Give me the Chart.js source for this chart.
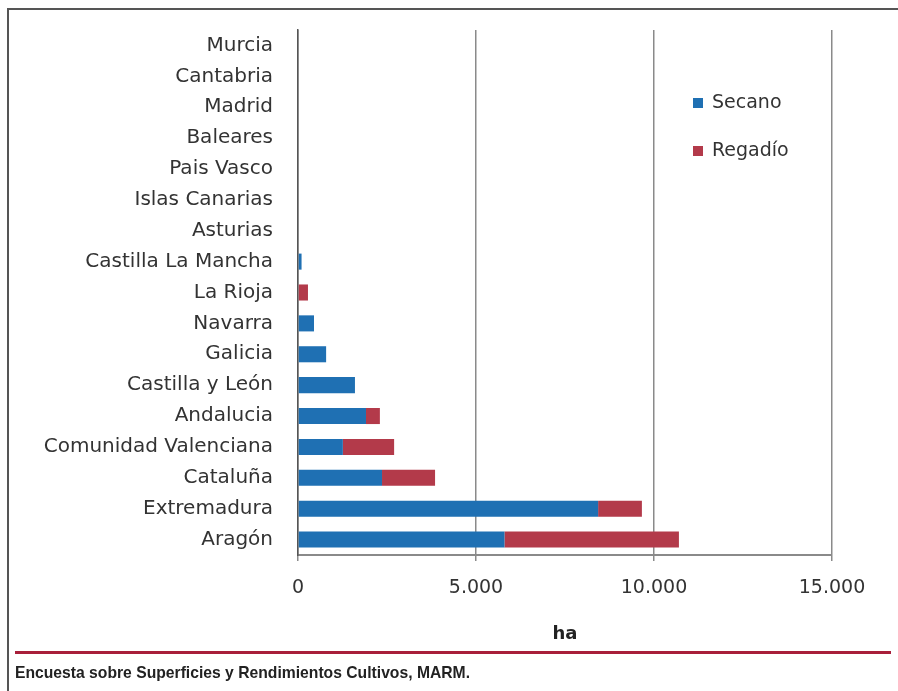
<!DOCTYPE html>
<html>
<head>
<meta charset="utf-8">
<script src="https://cdn.jsdelivr.net/npm/chart.js@4.4.1/dist/chart.umd.min.js"></script>
<style>
  html, body { margin: 0; padding: 0; background: #fff; }
  body { width: 898px; height: 691px; position: relative; overflow: hidden; }
  #frame {
    position: absolute; left: 7px; top: 8px; right: -5px; bottom: -5px;
    border-left: 2px solid #555; border-top: 2px solid #555;
  }
  #wrap { position: absolute; left: 0; top: 0; width: 898px; height: 691px; }
  #rule {
    position: absolute; left: 15px; width: 876px; top: 651px; height: 3px;
    background: #a81f3a;
  }
  #source {
    position: absolute; left: 15px; top: 664px;
    font-family: "Liberation Sans", sans-serif;
    font-weight: bold; font-size: 15.7px; color: #222;
  }
</style>
</head>
<body>
<div id="frame"></div>
<div id="wrap"><canvas id="chart" width="898" height="691"></canvas></div>
<div id="rule"></div>
<div id="source">Encuesta sobre Superficies y Rendimientos Cultivos, MARM.</div>

<script>
// regiones, de arriba a abajo
const regiones = [
    "Murcia", "Cantabria", "Madrid", "Baleares", "Pais Vasco", "Islas Canarias",
    "Asturias", "Castilla La Mancha", "La Rioja", "Navarra", "Galicia",
    "Castilla y León", "Andalucia", "Comunidad Valenciana", "Cataluña",
    "Extremadura", "Aragón"
];
// ha
const secano = [0, 0, 0, 0, 0, 0, 0, 100, 0, 450, 790, 1600, 1910, 1260, 2360, 8430, 5800];
const regadio = [0, 0, 0, 0, 0, 0, 0, 0, 280, 0, 0, 0, 390, 1440, 1490, 1230, 4900];
const xTicks = [0, 5000, 10000, 15000];

const txt = "#333";
const fam = "'DejaVu Sans', sans-serif";
const labelFont = { family: fam, size: 20 };

// leyenda dentro del area del grafico
const legendPlugin = {
    id: "legendBox",
    afterDraw(chart) {
        const ctx = chart.ctx;
        ctx.save();
        ctx.font = "19px " + fam;
        ctx.textBaseline = "middle";
        chart.data.datasets.forEach((ds, i) => {
            const y = 103 + i * 48;
            ctx.fillStyle = ds.backgroundColor;
            ctx.fillRect(693, y - 5, 10, 10);
            ctx.fillStyle = txt;
            ctx.fillText(ds.label, 712, y);
        });
        ctx.restore();
    }
};

new Chart(document.getElementById("chart"), {
    type: "bar",
    data: {
        labels: regiones,
        datasets: [
            { label: "Secano", data: secano, backgroundColor: "#1f70b3" },
            { label: "Regadío", data: regadio, backgroundColor: "#b33a4a" }
        ]
    },
    options: {
        indexAxis: "y",
        responsive: false,
        animation: false,
        layout: { padding: { left: 0, right: 66, top: 30, bottom: 46 } },
        datasets: { bar: { categoryPercentage: 1, barPercentage: 0.52 } },
        plugins: { legend: { display: false }, tooltip: { enabled: false } },
        scales: {
            x: {
                stacked: true,
                min: 0,
                max: 15000,
                afterBuildTicks(scale) {
                    scale.ticks = xTicks.map(v => ({ value: v }));
                },
                afterFit(scale) { scale.height = 90; },
                grid: { color: "#8a8a8a", lineWidth: 1.5, tickLength: 6, tickColor: "#8a8a8a" },
                border: { color: "#8a8a8a", width: 2 },
                ticks: {
                    color: txt, font: { family: fam, size: 19 }, padding: 16,
                    callback: v => v.toLocaleString("de-DE")
                },
                title: {
                    display: true, text: "ha", color: "#222",
                    font: { family: fam, size: 18, weight: "bold" },
                    padding: { top: 14, bottom: 0 }
                }
            },
            y: {
                stacked: true,
                afterFit(scale) {
                    scale.width = 298;
                    scale.paddingTop = 0;
                    scale.paddingBottom = 0;
                },
                grid: { display: false, drawTicks: false },
                border: { color: "#555", width: 1.5 },
                ticks: { color: txt, font: labelFont, padding: 25, autoSkip: false }
            }
        }
    },
    plugins: [legendPlugin]
});
</script>
</body>
</html>
